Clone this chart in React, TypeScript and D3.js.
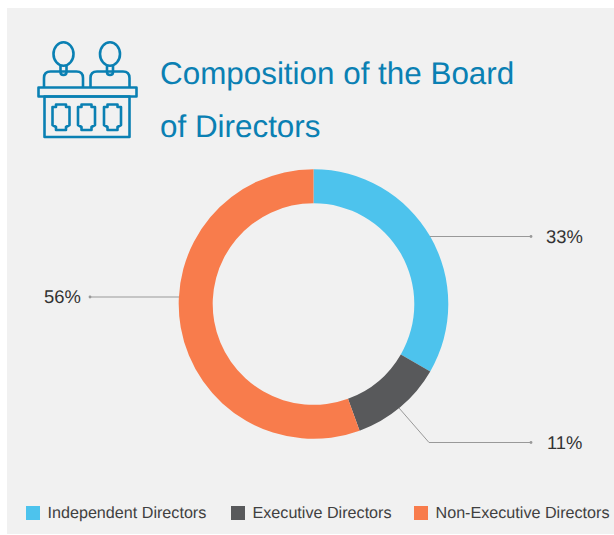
import React from "react";
import * as d3 from "d3";

const categories = ["Independent Directors", "Executive Directors", "Non-Executive Directors"];
const directorCounts = [3, 1, 5];
const percentLabels = ["33%", "11%", "56%"];
const colors = ["#4dc3ed", "#58595b", "#f87c4c"];
const titleLines = ["Composition of the Board", "of Directors"];

const legendX = [26, 231, 414];
const iconColor = "#0a80b3";

const cx = 313.5;
const cy = 304;
const outerR = 134.8;
const innerR = 100.8;

function Icon() {
  const headXs = [63.5, 110];
  const panelXs = [61, 86.5, 112.5];
  return (
    <g fill="none" stroke={iconColor} strokeWidth={2.6} strokeLinejoin="round">
      {headXs.map((x) => (
        <g key={x}>
          <ellipse cx={x} cy={54} rx={10} ry={11.7} />
          <path d={`M${x - 3} 66 V72 Q${x - 3} 75 ${x} 75 Q${x + 3} 75 ${x + 3} 72 V66`} />
          <path d={`M${x - 19.5} 87 V78 Q${x - 19.5} 71.5 ${x - 13} 71.5 H${x + 13} Q${x + 19.5} 71.5 ${x + 19.5} 78 V87`} />
        </g>
      ))}
      <rect x={38.5} y={87.5} width={98} height={9} />
      <rect x={44.5} y={96.5} width={85} height={40.5} />
      {panelXs.map((x) => (
        <path
          key={x}
          d={`M${x - 5} 104.5 H${x + 5} V107 H${x + 8.5} V125 L${x + 5} 127 V130 H${x - 5} V127 L${x - 8.5} 125 V107 H${x - 5} Z`}
        />
      ))}
    </g>
  );
}

export default function App() {
  const pie = d3.pie<number>().sort(null).startAngle(0).endAngle(2 * Math.PI);
  const arc = d3.arc<d3.PieArcDatum<number>>().innerRadius(innerR).outerRadius(outerR);
  const arcs = pie(directorCounts);
  const font = "'Liberation Sans', Arial, sans-serif";

  const leaders = [
    { pts: [[430, 236.5], [531, 236.5]], label: percentLabels[0], lx: 546, ly: 242.5 },
    { pts: [[399, 408], [429, 442.5], [531, 442.5]], label: percentLabels[1], lx: 547, ly: 448.5 },
    { pts: [[179, 297], [90, 297]], label: percentLabels[2], lx: 44, ly: 303 },
  ];
  const line = d3.line();

  return (
    <svg
      width={614}
      height={535}
      style={{ position: "absolute", left: 0, top: 0, display: "block", textRendering: "geometricPrecision" }}
      fontFamily={font}
    >
      <rect x={0} y={0} width={614} height={535} fill="#ffffff" />
      <rect x={7} y={8} width={607} height={526} fill="#f1f1f1" />
      <Icon />
      {titleLines.map((t, i) => (
        <text key={t} x={160} y={83.7 + i * 53} fontSize={31.4} fill="#0a80b3">
          {t}
        </text>
      ))}
      <g transform={`translate(${cx},${cy})`}>
        {arcs.map((a, i) => (
          <path key={categories[i]} d={arc(a) ?? ""} fill={colors[i]} />
        ))}
      </g>
      {leaders.map((l) => {
        const end = l.pts[l.pts.length - 1];
        return (
          <g key={l.label}>
            <path d={line(l.pts as [number, number][]) ?? ""} fill="none" stroke="#999999" strokeWidth={1} />
            <circle cx={end[0]} cy={end[1]} r={1.4} fill="#999999" />
            <text x={l.lx} y={l.ly} fontSize={18.4} fill="#333333">
              {l.label}
            </text>
          </g>
        );
      })}
      {categories.map((c, i) => (
        <g key={c}>
          <rect x={legendX[i]} y={506} width={14} height={14} fill={colors[i]} />
          <text x={legendX[i] + 21.5} y={518} fontSize={16.15} fill="#404040">
            {c}
          </text>
        </g>
      ))}
    </svg>
  );
}
